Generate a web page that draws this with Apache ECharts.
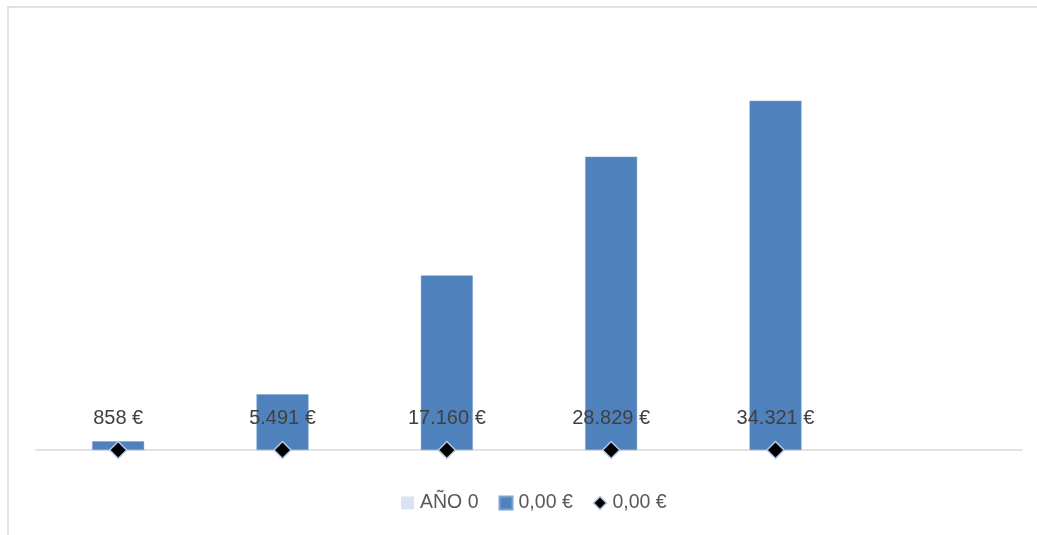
<!DOCTYPE html>
<html>
<head>
<meta charset="utf-8">
<script src="https://cdn.jsdelivr.net/npm/echarts@6/dist/echarts.min.js"></script>
<style>
html,body{margin:0;padding:0;background:#fff;}
#chart{width:1037px;height:535px;}
</style>
</head>
<body>
<div id="chart"></div>
<script>
var categories = ['1', '2', '3', '4', '5', '6'];
var anoValues = [];
var barValues = [858, 5491, 17160, 28829, 34321, null];
var markerValues = [0, 0, 0, 0, 0, null];
var labelValues = [858, 5491, 17160, 28829, 34321, null];
var seriesNames = ['AÑO 0', '0,00 €', '0,00\u00a0€'];

function fmtEuro(v) {
  if (v === null || v === undefined) return '';
  var s = String(Math.round(v));
  return s.replace(/\B(?=(\d{3})+(?!\d))/g, '.') + ' €';
}

var chart = echarts.init(document.getElementById('chart'), null, {renderer: 'canvas'});
chart.setOption({
  animation: false,
  backgroundColor: '#ffffff',
  graphic: [{
    type: 'rect',
    shape: {x: 8, y: 7, width: 1100, height: 600},
    style: {fill: 'none', stroke: '#d9d9d9', lineWidth: 1.5},
    silent: true, z: -10
  }],
  grid: {left: 36, right: 15, top: 43, bottom: 85, containLabel: false},
  legend: {
    left: 396,
    top: 488,
    itemWidth: 13,
    itemHeight: 13,
    itemGap: 20,
    textStyle: {fontFamily: 'Liberation Sans', fontSize: 19.5, color: '#595959', padding: [0, 0, 0, 1]},
    data: [
      {name: seriesNames[0], icon: 'rect'},
      {name: seriesNames[1], icon: 'rect'},
      {name: seriesNames[2], icon: 'diamond', itemStyle: {color: '#000', borderColor: '#b4c7e7', borderWidth: 1.5}}
    ]
  },
  xAxis: {
    type: 'category',
    data: categories,
    axisLine: {show: true, lineStyle: {color: '#d9d9d9', width: 1.5}},
    axisTick: {show: false},
    axisLabel: {show: false},
    splitLine: {show: false}
  },
  yAxis: {
    type: 'value',
    min: 0,
    max: 40000,
    interval: 5000,
    show: false,
    splitLine: {show: false}
  },
  series: [
    {
      name: seriesNames[0],
      type: 'bar',
      stack: 's',
      data: anoValues,
      itemStyle: {color: '#dae3f3'}
    },
    {
      name: seriesNames[1],
      type: 'bar',
      stack: 's',
      barWidth: 52,
      data: barValues,
      itemStyle: {color: '#4f81bd', borderColor: '#7fa3d0', borderWidth: 0.5}
    },
    {
      name: seriesNames[2],
      type: 'scatter',
      data: markerValues,
      symbol: 'diamond',
      symbolSize: 17,
      z: 5,
      itemStyle: {color: '#000000', borderColor: '#b4c7e7', borderWidth: 1.5, opacity: 1},
      label: {
        show: true,
        position: 'top',
        distance: 12,
        fontFamily: 'Liberation Sans',
        fontSize: 20,
        color: '#404040',
        formatter: function (p) { return fmtEuro(labelValues[p.dataIndex]); }
      }
    }
  ]
});
</script>
</body>
</html>
